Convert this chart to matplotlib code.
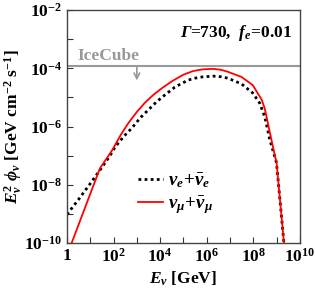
import numpy as np
import matplotlib
matplotlib.use("Agg")
import matplotlib.pyplot as plt

plt.rcParams['font.family'] = 'Liberation Serif'
plt.rcParams['font.weight'] = 'bold'
plt.rcParams['axes.labelweight'] = 'bold'
plt.rcParams['mathtext.fontset'] = 'custom'
plt.rcParams['mathtext.rm'] = 'Liberation Serif:bold'
plt.rcParams['mathtext.it'] = 'Liberation Serif:italic:bold'
plt.rcParams['mathtext.bf'] = 'Liberation Serif:bold'

# log10 of E [GeV] and log10 of E^2 phi
logE_mu = [0.2, 1.0, 1.42, 1.7, 1.95, 2.3, 2.62, 3.0, 3.35, 3.7, 4.05, 4.5, 5.0, 5.4, 5.8, 6.27,
           6.6, 6.91, 7.5, 7.98, 8.37, 8.5, 8.7, 8.93, 9.0, 9.32]
logF_mu = [-10.0, -8.31, -7.43, -7.1, -6.8, -6.3, -5.9, -5.5, -5.18, -4.92, -4.7, -4.45, -4.22, -4.1,
           -4.04, -4.02, -4.05, -4.12, -4.3, -4.58, -5.09, -5.4, -6.15, -7.0, -7.22, -10.0]

logE_e = [0.0, 0.5, 1.0, 1.5, 1.85, 2.06, 2.45, 2.79, 3.15, 3.48, 3.85, 4.2, 4.63, 4.98, 5.19, 5.5,
          5.79, 6.27, 6.6, 6.91, 7.5, 7.98, 8.28, 8.5, 8.71, 8.93, 9.0, 9.32]
logF_e = [-9.02, -8.5, -7.96, -7.4, -7.0, -6.71, -6.33, -6.05, -5.7, -5.44, -5.15, -4.92, -4.65, -4.5,
          -4.41, -4.34, -4.3, -4.27, -4.29, -4.34, -4.54, -4.85, -5.2, -5.68, -6.45, -7.05, -7.25, -10.0]

icecube_limit = 1.15e-4
icecube_arrow_E = 1e3

E_mu = 10.0**np.array(logE_mu)
F_mu = 10.0**np.array(logF_mu)
E_e = 10.0**np.array(logE_e)
F_e = 10.0**np.array(logF_e)

fig = plt.figure(figsize=(3.15, 2.9), dpi=100)
ax = fig.add_axes([0.2127, 0.162, 0.739, 0.8035])

ax.axhline(icecube_limit, color='#999999', lw=1.5, zorder=1)
ax.annotate('', xy=(icecube_arrow_E, 10**-4.42), xytext=(icecube_arrow_E, icecube_limit),
            arrowprops=dict(arrowstyle='->', color='#999999', lw=1.2, shrinkA=0, shrinkB=0))
ax.text(10**1.78, 10**-3.57, 'IceCube', color='#999999', fontsize=12.5, fontweight='bold',
        ha='center', va='center')

ax.plot(E_e, F_e, color='black', lw=2.0, ls=(0, (1, 1.2)), label=r'$\nu_e\!+\!\bar{\nu}_e$')
ax.plot(E_mu, F_mu, color='red', lw=1.3, label=r'$\nu_\mu\!+\!\bar{\nu}_\mu$')

ax.set_xscale('log')
ax.set_yscale('log')
ax.set_xlim(1, 1e10)
ax.set_ylim(1e-10, 1e-2)

ax.set_xticks(10.0**np.arange(0, 11))
ax.set_xticklabels(['1' if k == 0 else (r'$\mathbf{10^{%d}}$' % k if k % 2 == 0 else '') for k in range(11)])
ax.set_yticks(10.0**np.arange(-10, -1))
ax.set_yticklabels([r'$\mathbf{10^{%d}}$' % k if k % 2 == 0 else '' for k in range(-10, -1)])
ax.minorticks_off()
ax.tick_params(direction='in', length=4, width=0.8, labelsize=12.5, top=False, right=False, colors='#333333')
for lab in ax.get_xticklabels() + ax.get_yticklabels():
    lab.set_color('black')
for s in ax.spines.values():
    s.set_color('#444444')
    s.set_linewidth(1.0)

ax.set_xlabel(r'$E_\nu$ [GeV]', fontsize=12.5, labelpad=3)
ax.set_ylabel(r'$E_\nu^2\ \phi_\nu$ [GeV cm$^{-2}$ s$^{-1}$]', fontsize=12.5, labelpad=0)

leg = ax.legend(loc='upper left', bbox_to_anchor=(0.305, 0.31), frameon=False, fontsize=13.5,
                handlelength=1.35, handletextpad=0.27, labelspacing=0.25, borderaxespad=0,
                borderpad=0)

# parameter label: mathtext keeps capital Greek upright, so the italic Gamma is a separate text
t_rest = ax.text(0.968, 0.884, r'=730,  $f_e$=0.01', transform=ax.transAxes,
                 ha='right', va='baseline', fontsize=12.5)
fig.canvas.draw()
bb = t_rest.get_window_extent()
x_left = ax.transAxes.inverted().transform((bb.x0, bb.y0))[0]
ax.text(x_left, 0.884, '\u0393', transform=ax.transAxes, ha='right', va='baseline',
        fontsize=12.5, fontstyle='italic', fontweight='bold')

fig.savefig('out.png', dpi=100)
